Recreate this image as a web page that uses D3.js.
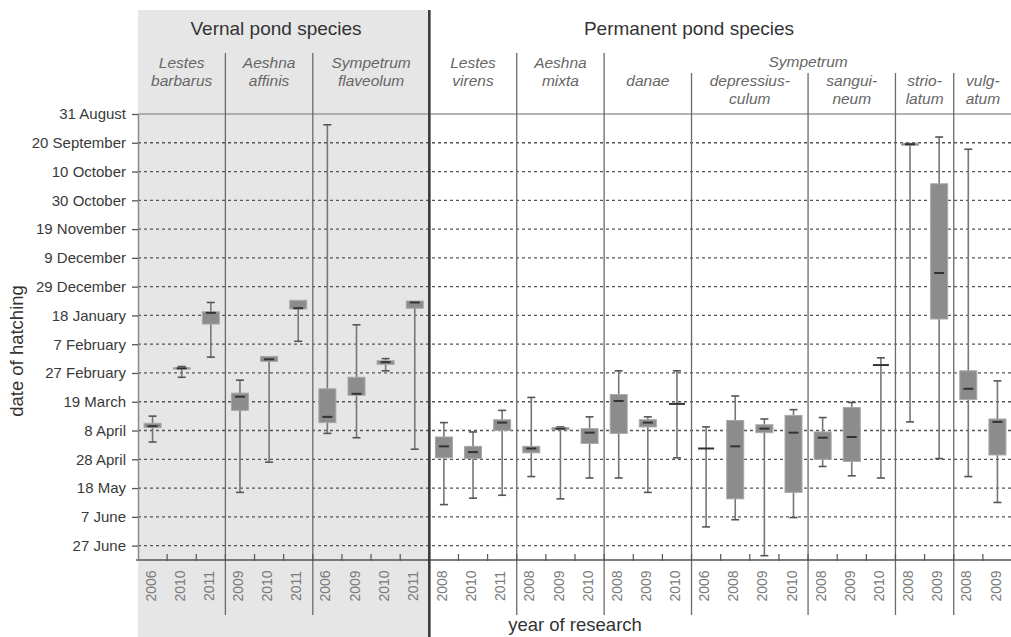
<!DOCTYPE html>
<html lang="en">
<head>
<meta charset="utf-8">
<title>date of hatching</title>
<script src="https://cdn.jsdelivr.net/npm/d3@7"></script>
<style>
  body { margin: 0; background: #fff; }
  svg { display: block; font-family: "Liberation Sans", Arial, sans-serif; }
</style>
</head>
<body>
<div id="chart"></div>
<script>
// days counted from 31 August (day 0)
const tickDays = [0, 20, 40, 60, 80, 100, 120, 140, 160, 180, 200, 220, 240, 260, 280, 300];
const tickLabels = ["31 August", "20 September", "10 October", "30 October", "19 November",
  "9 December", "29 December", "18 January", "7 February", "27 February", "19 March",
  "8 April", "28 April", "18 May", "7 June", "27 June"];

const habitats = ["Vernal pond species", "Permanent pond species"];
const speciesHabitat = [0, 0, 0, 1, 1, 1, 1, 1, 1, 1];
const speciesLabels = [["Lestes", "barbarus"], ["Aeshna", "affinis"], ["Sympetrum", "flaveolum"],
  ["Lestes", "virens"], ["Aeshna", "mixta"], ["danae"], ["depressius-", "culum"],
  ["sangui-", "neum"], ["strio-", "latum"], ["vulg-", "atum"]];
const genusLabel = "Sympetrum";
const genusSpecies = [5, 6, 7, 8, 9];
const speciesYears = [[2006, 2010, 2011], [2009, 2010, 2011], [2006, 2009, 2010, 2011],
  [2008, 2010, 2011], [2008, 2009, 2010], [2008, 2009, 2010], [2006, 2008, 2009, 2010],
  [2008, 2009, 2010], [2008, 2009], [2008, 2009]];

// one value per column (species x year), in the same order as speciesYears
const whiskerLow = [210, 175.5, 131, 185, 168.5, 129.5, 7.5, 146.5, 170, 130,
  214.5, 221, 206, 197, 217.5, 210.5, 178.5, 210.5, 178.5,
  217.5, 196, 212, 205.5, 211, 200.5, 169.5, 20.5, 16, 24.5, 185.5];
const quart1 = [215, 176.3, 137.5, 194, 168.5, 129.5, 191, 183, 171.5, 130,
  224.5, 231, 212.5, 231, 218, 218.7, 195, 212.5, 201.5,
  232.5, 213, 216, 209.5, 221, 204, 174.5, 20.3, 48.5, 178.5, 212];
const medians = [217, 176.8, 138.2, 196.5, 170.5, 135, 210.5, 194.5, 172.5, 131,
  231, 235, 214.5, 232.5, 218.7, 221.5, 199.5, 214.5, 201.5,
  232.5, 231, 218.7, 221.5, 225, 224.5, 174.5, 21, 110.5, 191, 214];
const quart3 = [218, 177.3, 146, 206, 172, 135.5, 214.5, 195.5, 174, 135,
  239, 239.5, 220, 235.5, 219.5, 229, 222, 217.5, 201.5,
  232.5, 267.5, 221.5, 263, 240, 241.5, 174.5, 21.7, 142.5, 198.5, 237];
const whiskerHigh = [228, 183, 169, 263, 242, 158, 222, 225, 178.5, 233,
  271.5, 267, 265, 252, 267.5, 253, 253, 263, 239,
  287, 282, 307, 280.5, 245, 251.5, 253, 214, 239.5, 252, 270];

const width = 1011, height = 637;

const cols = [];
speciesYears.forEach((ys, s) => ys.forEach(year => cols.push({ s, year, key: s + "-" + year })));
cols.forEach((c, i) => {
  c.lo = whiskerLow[i]; c.q1 = quart1[i]; c.med = medians[i]; c.q3 = quart3[i]; c.hi = whiskerHigh[i];
});

const x = d3.scaleBand()
  .domain(cols.map(d => d.key))
  .range([138, 1012]);

const y = d3.scaleLinear()
  .domain([0, 310])
  .range([114, 560]);

// left edge of each species
const firstCol = speciesYears.map((ys, s) => x(s + "-" + ys[0]));
const lastCol = speciesYears.map((ys, s) => x(s + "-" + ys[ys.length - 1]) + x.bandwidth());
const permStart = firstCol[speciesHabitat.indexOf(1)];

const svg = d3.select("#chart").append("svg")
  .attr("width", width)
  .attr("height", height);

// vernal pond background
svg.append("rect")
  .attr("x", x.range()[0])
  .attr("y", 10)
  .attr("width", permStart - x.range()[0])
  .attr("height", height - 10)
  .attr("fill", "#e6e6e6");

// grid
svg.append("g")
  .selectAll("line")
  .data(tickDays)
  .join("line")
    .attr("x1", x.range()[0])
    .attr("x2", x.range()[1])
    .attr("y1", d => y(d))
    .attr("y2", d => y(d))
    .attr("stroke", d => d === 0 ? "#9a9a9a" : "#555")
    .attr("stroke-width", d => d === 0 ? 1.6 : 1.3)
    .attr("stroke-dasharray", d => d === 0 ? null : "3,3");

// species separators
const seps = d3.range(1, speciesLabels.length).filter(s => speciesHabitat[s] === speciesHabitat[s - 1]);
svg.append("g")
  .selectAll("line")
  .data(seps)
  .join("line")
    .attr("x1", s => firstCol[s])
    .attr("x2", s => firstCol[s])
    .attr("y1", s => genusSpecies.includes(s) && genusSpecies.includes(s - 1) ? 73 : 53)
    .attr("y2", 615)
    .attr("stroke", "#6a6a6a")
    .attr("stroke-width", 1.3);

// x axis line and ticks at column boundaries
svg.append("line")
  .attr("x1", x.range()[0] - 2)
  .attr("x2", x.range()[1])
  .attr("y1", y(310))
  .attr("y2", y(310))
  .attr("stroke", "#555")
  .attr("stroke-width", 1.4);

svg.append("g")
  .selectAll("line")
  .data(cols.slice(1))
  .join("line")
    .attr("x1", d => x(d.key))
    .attr("x2", d => x(d.key))
    .attr("y1", y(310) - 6)
    .attr("y2", y(310) + 1)
    .attr("stroke", "#555")
    .attr("stroke-width", 1.2);

// year labels
const xAxis = g => g
  .attr("transform", `translate(0,${y(310)})`)
  .call(d3.axisBottom(x).tickSize(0).tickFormat((k, i) => cols[i].year))
  .call(g => g.select(".domain").remove())
  .call(g => g.selectAll("text")
    .attr("transform", "rotate(-90)")
    .attr("x", -26)
    .attr("y", 0)
    .attr("dy", "0.22em")
    .attr("text-anchor", "middle")
    .attr("fill", "#7a7a7a")
    .attr("font-size", 14)
    .attr("font-family", null));

svg.append("g").call(xAxis);

// y axis
const yAxis = g => g
  .attr("transform", `translate(${x.range()[0]},0)`)
  .call(d3.axisLeft(y).tickValues(tickDays).tickFormat((d, i) => tickLabels[i])
    .tickSize(6).tickSizeOuter(0).tickPadding(6))
  .call(g => g.select(".domain").attr("stroke", "#8a8a8a").attr("stroke-width", 1.5))
  .call(g => g.selectAll(".tick line").attr("stroke", "#555").attr("stroke-width", 1.3))
  .call(g => g.selectAll("text")
    .attr("fill", "#3a3a3a")
    .attr("font-size", 15)
    .attr("font-family", null));

svg.append("g").call(yAxis);

// thick habitat divider
svg.append("line")
  .attr("x1", permStart)
  .attr("x2", permStart)
  .attr("y1", 10)
  .attr("y2", height)
  .attr("stroke", "#3a3a3a")
  .attr("stroke-width", 2.6);

// boxes
const boxW = 17, capW = 8, medW = 10;
const box = svg.append("g")
  .selectAll("g")
  .data(cols)
  .join("g")
    .attr("transform", d => `translate(${x(d.key) + x.bandwidth() / 2},0)`);

box.append("line")
  .attr("y1", d => y(d.lo))
  .attr("y2", d => y(d.hi))
  .attr("stroke", "#777")
  .attr("stroke-width", 1.6);

box.filter(d => d.lo < d.q1).append("line")
  .attr("x1", -capW / 2).attr("x2", capW / 2)
  .attr("y1", d => y(d.lo)).attr("y2", d => y(d.lo))
  .attr("stroke", "#555").attr("stroke-width", 1.6);

box.filter(d => d.hi > d.q3).append("line")
  .attr("x1", -capW / 2).attr("x2", capW / 2)
  .attr("y1", d => y(d.hi)).attr("y2", d => y(d.hi))
  .attr("stroke", "#555").attr("stroke-width", 1.6);

box.filter(d => d.q3 > d.q1).append("rect")
  .attr("x", -boxW / 2)
  .attr("width", boxW)
  .attr("y", d => y(d.q1))
  .attr("height", d => y(d.q3) - y(d.q1))
  .attr("fill", "#8c8c8c")
  .attr("stroke", "#a8a8a8")
  .attr("stroke-width", 1);

box.append("line")
  .attr("x1", d => d.q3 > d.q1 ? -medW / 2 : -capW)
  .attr("x2", d => d.q3 > d.q1 ? medW / 2 : capW)
  .attr("y1", d => y(d.med))
  .attr("y2", d => y(d.med))
  .attr("stroke", "#333")
  .attr("stroke-width", 2);

// header
const habitatTitleX = [276, 689];
svg.append("g")
  .selectAll("text")
  .data(habitats)
  .join("text")
    .attr("x", (d, i) => habitatTitleX[i])
    .attr("y", 35)
    .attr("text-anchor", "middle")
    .attr("font-size", 19)
    .attr("fill", "#333")
    .text(d => d);

const speciesG = svg.append("g")
  .attr("font-style", "italic")
  .attr("font-size", 15.5)
  .attr("fill", "#666")
  .attr("text-anchor", "middle");

speciesG.selectAll("text")
  .data(speciesLabels.flatMap((lines, s) => lines.map((t, j) => ({ s, t, j }))))
  .join("text")
    .attr("x", d => (firstCol[d.s] + lastCol[d.s]) / 2)
    .attr("y", d => (genusSpecies.includes(d.s) ? 86 : 68) + d.j * 18)
    .text(d => d.t);

speciesG.append("text")
  .attr("x", (firstCol[genusSpecies[0]] + lastCol[genusSpecies[genusSpecies.length - 1]]) / 2)
  .attr("y", 67)
  .text(genusLabel);

// axis titles
svg.append("text")
  .attr("transform", `translate(23,351) rotate(-90)`)
  .attr("text-anchor", "middle")
  .attr("font-size", 18.5)
  .attr("fill", "#333")
  .text("date of hatching");

svg.append("text")
  .attr("x", 575)
  .attr("y", 631)
  .attr("text-anchor", "middle")
  .attr("font-size", 18.5)
  .attr("fill", "#333")
  .text("year of research");
</script>
</body>
</html>
